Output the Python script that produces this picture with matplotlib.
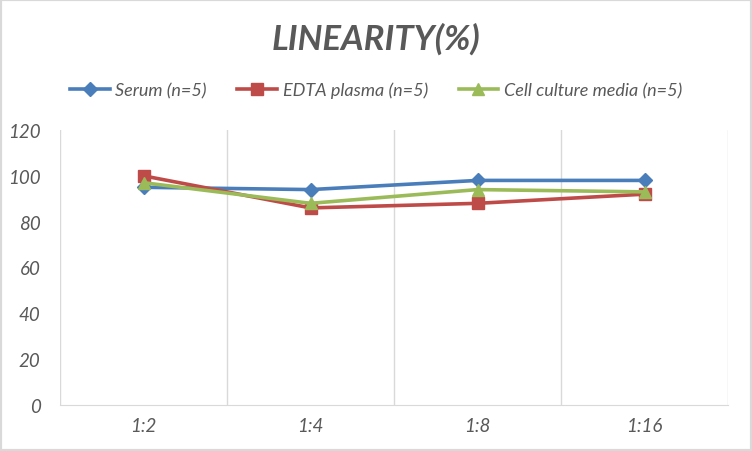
import numpy as np
import matplotlib
matplotlib.use("Agg")
import matplotlib.pyplot as plt
from matplotlib.patches import Rectangle

plt.rcParams['font.family'] = ['Lato', 'DejaVu Sans']

dilutions = ["1:2", "1:4", "1:8", "1:16"]
serum = [95, 94, 98, 98]
edta_plasma = [100, 86, 88, 92]
cell_media = [97, 88, 94, 93]

series_names = ["Serum (n=5)", "EDTA plasma (n=5)", "Cell culture media (n=5)"]

text_col = "#595959"
grid_col = "#D9D9D9"

fig = plt.figure(figsize=(7.52, 4.52), dpi=100)
ax = fig.add_axes([60 / 752, 1 - 406 / 452, 668 / 752, 275 / 452])

x = np.arange(len(dilutions))
ax.plot(x, serum, color="#4A7EBB", lw=2.6, marker="D", ms=7, label=series_names[0], zorder=3)
ax.plot(x, edta_plasma, color="#BE4B48", lw=2.6, marker="s", ms=9, label=series_names[1], zorder=3)
ax.plot(x, cell_media, color="#9BBB59", lw=2.6, marker="^", ms=9, label=series_names[2], zorder=4)

ax.set_xlim(-0.5, len(dilutions) - 0.5)
ax.set_ylim(0, 120)
ax.set_yticks(np.arange(0, 121, 20))
ax.set_xticks(x)
ax.set_xticklabels(dilutions)
ax.set_xticks(np.arange(-0.5, len(dilutions), 1), minor=True)
ax.grid(True, which="minor", axis="x", color=grid_col, lw=1)
ax.tick_params(which="both", length=0)
ax.tick_params(axis="y", pad=14, labelsize=13.5, labelcolor=text_col)
ax.tick_params(axis="x", pad=9, labelsize=13.5, labelcolor=text_col)
for lab in ax.get_xticklabels() + ax.get_yticklabels():
    lab.set_fontstyle("italic")

for s in ["top", "left", "right"]:
    ax.spines[s].set_visible(False)
ax.spines["bottom"].set_color(grid_col)

fig.text(0.5, 1 - 39 / 452, "LINEARITY(%)", ha="center", va="center",
         fontsize=25, fontweight="bold", fontstyle="italic", color=text_col)

leg = fig.legend(loc="center", bbox_to_anchor=(0.5, 1 - 91 / 452), ncol=3, frameon=False,
                 fontsize=13, handlelength=2.2, columnspacing=1.7, handletextpad=0.3)
for t in leg.get_texts():
    t.set_color(text_col)
    t.set_fontstyle("italic")

fig.patches.append(Rectangle((0, 0), 1, 1, transform=fig.transFigure, fill=False,
                             edgecolor=grid_col, lw=3))

fig.savefig("out.png", dpi=100)
